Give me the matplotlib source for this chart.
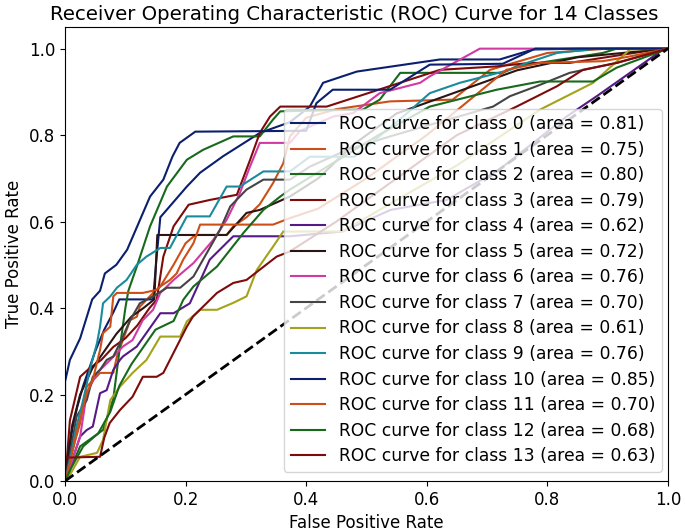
import matplotlib
matplotlib.use("Agg")
import matplotlib.pyplot as plt

# ROC points per class
fpr_0 = [0, 0.005, 0.012, 0.02, 0.03, 0.04, 0.05, 0.065, 0.08, 0.09, 0.146, 0.152, 0.158, 0.202, 0.224, 0.262, 0.323, 0.373, 0.406, 0.428, 0.484, 0.622, 0.721, 0.776, 0.854, 1]
tpr_0 = [0, 0.05, 0.12, 0.17, 0.22, 0.26, 0.30, 0.35, 0.39, 0.42, 0.42, 0.52, 0.61, 0.681, 0.713, 0.751, 0.805, 0.83, 0.866, 0.921, 0.947, 0.975, 0.975, 0.998, 1.0, 1.0]

fpr_1 = [0, 0.01, 0.025, 0.036, 0.058, 0.08, 0.086, 0.108, 0.119, 0.124, 0.146, 0.158, 0.18, 0.2, 0.216, 0.268, 0.279, 0.301, 0.323, 0.345, 0.362, 0.373, 0.40, 0.45, 0.539, 0.643, 0.705, 0.80, 0.9, 1]
tpr_1 = [0, 0.06, 0.134, 0.218, 0.25, 0.25, 0.288, 0.372, 0.38, 0.403, 0.435, 0.45, 0.50, 0.55, 0.569, 0.569, 0.589, 0.61, 0.64, 0.689, 0.735, 0.797, 0.84, 0.86, 0.878, 0.882, 0.951, 0.99, 1.0, 1.0]

fpr_2 = [0, 0.008, 0.025, 0.045, 0.063, 0.08, 0.091, 0.1, 0.105, 0.119, 0.141, 0.169, 0.202, 0.229, 0.279, 0.323, 0.345, 0.357, 0.494, 0.522, 0.556, 0.726, 0.749, 0.892, 0.915, 1]
tpr_2 = [0, 0.025, 0.08, 0.10, 0.118, 0.19, 0.31, 0.40, 0.44, 0.496, 0.589, 0.681, 0.743, 0.766, 0.797, 0.797, 0.836, 0.855, 0.859, 0.882, 0.944, 0.944, 0.959, 0.99, 1.0, 1.0]

fpr_3 = [0, 0.003, 0.008, 0.025, 0.04, 0.06, 0.08, 0.1, 0.12, 0.14, 0.152, 0.163, 0.18, 0.205, 0.24, 0.285, 0.307, 0.323, 0.34, 0.357, 0.434, 0.622, 0.716, 0.771, 0.837, 0.99, 1]
tpr_3 = [0, 0.05, 0.14, 0.241, 0.26, 0.28, 0.31, 0.33, 0.36, 0.40, 0.419, 0.519, 0.589, 0.639, 0.65, 0.662, 0.743, 0.805, 0.843, 0.866, 0.866, 0.951, 0.959, 0.967, 0.967, 1.0, 1.0]

fpr_4 = [0, 0.01, 0.025, 0.036, 0.046, 0.058, 0.069, 0.08, 0.091, 0.096, 0.119, 0.158, 0.18, 0.207, 0.24, 0.279, 0.373, 0.46, 0.54, 0.633, 0.72, 0.832, 0.882, 0.992, 1]
tpr_4 = [0, 0.04, 0.103, 0.118, 0.126, 0.203, 0.21, 0.257, 0.28, 0.288, 0.311, 0.388, 0.388, 0.411, 0.512, 0.566, 0.566, 0.577, 0.627, 0.65, 0.72, 0.843, 0.89, 0.998, 1.0]

fpr_5 = [0, 0.005, 0.012, 0.025, 0.045, 0.065, 0.085, 0.11, 0.13, 0.148, 0.153, 0.268, 0.301, 0.323, 0.373, 0.42, 0.48, 0.55, 0.65, 0.75, 0.85, 1]
tpr_5 = [0, 0.06, 0.13, 0.2, 0.26, 0.30, 0.34, 0.38, 0.40, 0.42, 0.569, 0.569, 0.62, 0.627, 0.658, 0.70, 0.78, 0.85, 0.90, 0.95, 0.98, 1.0]

fpr_6 = [0, 0.01, 0.025, 0.036, 0.053, 0.075, 0.096, 0.112, 0.129, 0.146, 0.158, 0.18, 0.213, 0.246, 0.268, 0.29, 0.307, 0.323, 0.373, 0.39, 0.445, 0.478, 0.522, 0.589, 0.605, 0.688, 1]
tpr_6 = [0, 0.04, 0.103, 0.203, 0.25, 0.28, 0.311, 0.326, 0.372, 0.396, 0.435, 0.465, 0.504, 0.558, 0.604, 0.666, 0.728, 0.782, 0.782, 0.81, 0.843, 0.851, 0.897, 0.921, 0.936, 1.0, 1.0]

fpr_7 = [0, 0.008, 0.019, 0.036, 0.046, 0.058, 0.069, 0.08, 0.091, 0.108, 0.124, 0.146, 0.169, 0.191, 0.213, 0.235, 0.257, 0.274, 0.301, 0.329, 0.373, 0.406, 0.468, 0.539, 0.71, 0.738, 0.782, 0.837, 0.915, 1]
tpr_7 = [0, 0.06, 0.149, 0.187, 0.241, 0.257, 0.28, 0.288, 0.319, 0.372, 0.411, 0.427, 0.447, 0.447, 0.473, 0.527, 0.581, 0.635, 0.674, 0.697, 0.697, 0.727, 0.766, 0.797, 0.866, 0.89, 0.913, 0.944, 0.967, 1.0]

fpr_8 = [0, 0.003, 0.025, 0.053, 0.063, 0.075, 0.091, 0.112, 0.135, 0.158, 0.191, 0.202, 0.224, 0.252, 0.279, 0.301, 0.318, 0.345, 0.362, 0.46, 0.55, 0.65, 0.788, 0.876, 0.937, 1]
tpr_8 = [0, 0.002, 0.056, 0.065, 0.095, 0.187, 0.218, 0.25, 0.28, 0.334, 0.334, 0.369, 0.396, 0.396, 0.412, 0.427, 0.488, 0.542, 0.577, 0.577, 0.65, 0.73, 0.859, 0.921, 0.998, 1.0]

fpr_9 = [0, 0.008, 0.019, 0.03, 0.041, 0.047, 0.053, 0.058, 0.063, 0.075, 0.086, 0.102, 0.119, 0.135, 0.158, 0.174, 0.202, 0.24, 0.268, 0.29, 0.329, 0.373, 0.406, 0.48, 0.561, 0.605, 0.655, 0.738, 0.766, 0.816, 0.882, 1]
tpr_9 = [0, 0.048, 0.126, 0.187, 0.257, 0.288, 0.319, 0.357, 0.411, 0.427, 0.447, 0.465, 0.5, 0.519, 0.539, 0.539, 0.612, 0.612, 0.681, 0.681, 0.716, 0.716, 0.75, 0.75, 0.843, 0.897, 0.921, 0.951, 0.967, 0.99, 1.0, 1.0]

fpr_10 = [0, 0, 0.008, 0.025, 0.045, 0.058, 0.066, 0.085, 0.103, 0.12, 0.141, 0.163, 0.178, 0.19, 0.216, 0.40, 0.417, 0.444, 0.539, 0.605, 0.726, 0.78, 1]
tpr_10 = [0, 0.23, 0.28, 0.33, 0.42, 0.44, 0.48, 0.50, 0.535, 0.59, 0.658, 0.697, 0.75, 0.782, 0.808, 0.81, 0.874, 0.905, 0.905, 0.963, 0.965, 1.0, 1.0]

fpr_11 = [0, 0.008, 0.019, 0.036, 0.046, 0.058, 0.063, 0.075, 0.08, 0.086, 0.129, 0.152, 0.158, 0.174, 0.185, 0.196, 0.213, 0.224, 0.345, 0.373, 0.42, 0.5, 0.6, 0.732, 0.788, 0.892, 0.937, 1]
tpr_11 = [0, 0.04, 0.11, 0.203, 0.234, 0.303, 0.342, 0.357, 0.427, 0.435, 0.435, 0.442, 0.45, 0.465, 0.48, 0.512, 0.55, 0.593, 0.593, 0.608, 0.63, 0.70, 0.80, 0.951, 0.967, 0.971, 0.982, 1.0]

fpr_12 = [0, 0.01, 0.03, 0.055, 0.075, 0.09, 0.11, 0.13, 0.15, 0.18, 0.196, 0.213, 0.252, 0.296, 0.329, 0.357, 0.373, 0.45, 0.52, 0.605, 0.716, 0.788, 0.876, 0.915, 1]
tpr_12 = [0, 0.03, 0.08, 0.11, 0.16, 0.22, 0.27, 0.31, 0.35, 0.37, 0.419, 0.45, 0.496, 0.574, 0.627, 0.658, 0.674, 0.74, 0.80, 0.866, 0.905, 0.924, 0.924, 0.956, 1.0]

fpr_13 = [0, 0, 0.058, 0.065, 0.074, 0.091, 0.112, 0.129, 0.152, 0.163, 0.202, 0.212, 0.252, 0.279, 0.301, 0.351, 0.373, 0.45, 0.55, 0.65, 0.749, 0.816, 0.859, 0.915, 1]
tpr_13 = [0, 0.054, 0.056, 0.10, 0.134, 0.164, 0.195, 0.241, 0.241, 0.25, 0.357, 0.38, 0.435, 0.458, 0.465, 0.519, 0.531, 0.60, 0.70, 0.80, 0.866, 0.913, 0.951, 0.967, 1.0]

roc_auc = [0.81, 0.75, 0.80, 0.79, 0.62, 0.72, 0.76, 0.70, 0.61, 0.76, 0.85, 0.70, 0.68, 0.63]

fpr = [fpr_0, fpr_1, fpr_2, fpr_3, fpr_4, fpr_5, fpr_6, fpr_7, fpr_8, fpr_9, fpr_10, fpr_11, fpr_12, fpr_13]
tpr = [tpr_0, tpr_1, tpr_2, tpr_3, tpr_4, tpr_5, tpr_6, tpr_7, tpr_8, tpr_9, tpr_10, tpr_11, tpr_12, tpr_13]
n_classes = len(roc_auc)

# dark palette, cycles after 10 classes
colors = ['#0b1f6e', '#cc4f17', '#17691b', '#7e0b0b', '#551a85',
          '#2a1414', '#d03aa3', '#444444', '#a3a31b', '#1a8b9c']

fig, ax = plt.subplots(figsize=(6.85, 5.3), dpi=100)
fig.subplots_adjust(left=0.095, right=0.975, bottom=0.0925, top=0.949)

for i in range(n_classes):
    ax.plot(fpr[i], tpr[i], color=colors[i % len(colors)], lw=1.5,
            label=f'ROC curve for class {i} (area = {roc_auc[i]:0.2f})')

ax.plot([0, 1], [0, 1], 'k--', lw=2)
ax.set_xlim([0.0, 1.0])
ax.set_ylim([0.0, 1.05])
ax.tick_params(labelsize=12)
ax.set_xlabel('False Positive Rate', fontsize=12)
ax.set_ylabel('True Positive Rate', fontsize=12)
ax.set_title(f'Receiver Operating Characteristic (ROC) Curve for {n_classes} Classes',
             fontsize=14.2, x=0.48, pad=5)
ax.legend(loc='lower right', bbox_to_anchor=(0.99, 0.02), borderaxespad=0,
          fontsize=12.3, labelspacing=0.44)

fig.savefig('out.png', dpi=100)
